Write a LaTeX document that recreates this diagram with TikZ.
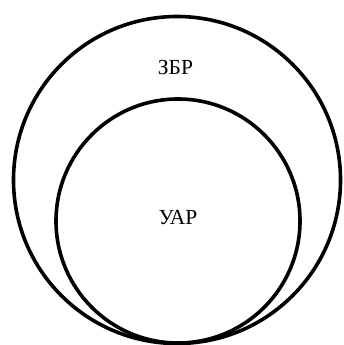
\documentclass[tikz,border=0pt]{standalone}
\usepackage{fontspec}
\setmainfont{Liberation Serif}
\begin{document}
\begin{tikzpicture}[x=1pt,y=-1pt,
  ring/.style={draw=black,line width=3.6pt,circle,inner sep=0pt},
  lbl/.style={font=\fontsize{21.5}{25}\selectfont,inner sep=0pt}]
\useasboundingbox (0,0) rectangle (343,345);
\node[ring,minimum size=327pt] (outer) at (177,180) {};
\node[ring,minimum size=244pt] (inner) at (178,221) {};
\node[lbl] (zbr) at (175.5,67) {ЗБР};
\node[lbl] (uar) at (178,217.5) {УАР};
\end{tikzpicture}
\end{document}
